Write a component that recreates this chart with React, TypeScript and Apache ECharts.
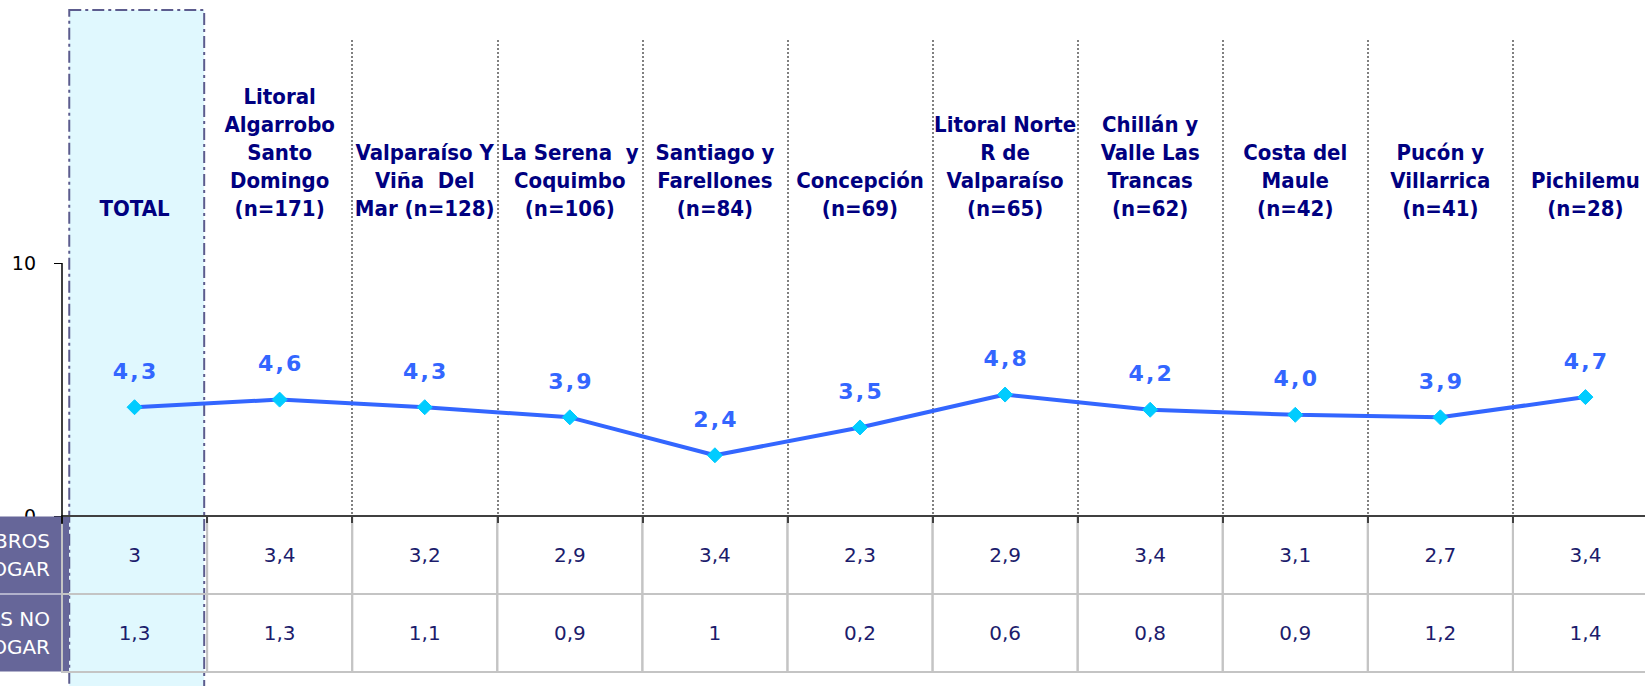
import React, { useEffect, useRef } from 'react';
import * as echarts from 'echarts';

const categories = [
  'TOTAL',
  'Litoral\nAlgarrobo\nSanto\nDomingo\n(n=171)',
  'Valparaíso Y\nViña  Del\nMar (n=128)',
  'La Serena  y\nCoquimbo\n(n=106)',
  'Santiago y\nFarellones\n(n=84)',
  'Concepción\n(n=69)',
  'Litoral Norte\nR de\nValparaíso\n(n=65)',
  'Chillán y\nValle Las\nTrancas\n(n=62)',
  'Costa del\nMaule\n(n=42)',
  'Pucón y\nVillarrica\n(n=41)',
  'Pichilemu\n(n=28)',
];
const promedio = [4.3, 4.6, 4.3, 3.9, 2.4, 3.5, 4.8, 4.2, 4.0, 3.9, 4.7];
const rowLabels = ['MIEMBROS\nHOGAR', 'MIEMBROS NO\nHOGAR'];
const miembrosHogar = [3, 3.4, 3.2, 2.9, 3.4, 2.3, 2.9, 3.4, 3.1, 2.7, 3.4];
const miembrosNoHogar = [1.3, 1.3, 1.1, 0.9, 1, 0.2, 0.6, 0.8, 0.9, 1.2, 1.4];
const yTickValues = [0, 10];
const yMax = 20;

const HS = '\u200A';
const fmtLabel = (v: number) => v.toFixed(1).replace('.', HS + ',' + HS);
const fmtCell = (v: number) => String(v).replace('.', ',');

const FONT = "'DejaVu Sans', sans-serif";
const FONT_COND = "'DejaVu Sans Condensed', 'DejaVu Sans', sans-serif";

export default function App() {
  const ref = useRef<HTMLDivElement>(null);

  useEffect(() => {
    if (!ref.current) return;
    const chart = echarts.init(ref.current, null, { renderer: 'svg' });

    const tableData: any[] = [];
    [miembrosHogar, miembrosNoHogar].forEach((row, ri) => {
      row.forEach((v, ci) => tableData.push([ci, ri, v]));
    });

    const option: any = {
      animation: false,
      backgroundColor: 'transparent',
      grid: [
        { left: 62, top: 10, width: 1596, height: 506, outerBoundsMode: 'none', containLabel: false },
        { left: 62, top: 40, width: 1596, height: 476, outerBoundsMode: 'none', containLabel: false },
        { left: 62, top: 516, width: 1596, height: 156, outerBoundsMode: 'none', containLabel: false },
      ],
      xAxis: [
        {
          gridIndex: 0,
          type: 'category',
          data: categories,
          boundaryGap: true,
          z: 5,
          axisLine: { show: true, lineStyle: { color: '#404040', width: 2 } },
          axisTick: { show: true, interval: 0, length: 7, lineStyle: { color: '#404040', width: 2 } },
          axisLabel: { show: false },
          splitLine: { show: false },
        },
        {
          gridIndex: 1,
          type: 'category',
          data: categories,
          boundaryGap: true,
          position: 'top',
          offset: -190,
          axisLine: { show: false },
          axisTick: { show: false },
          axisLabel: {
            show: true,
            interval: 0,
            margin: 8,
            color: '#000080',
            fontFamily: FONT_COND,
            fontWeight: 'bold',
            fontSize: 22,
            lineHeight: 28,
          },
          splitLine: {
            show: true,
            interval: (i: number) => i >= 2,
            lineStyle: { color: '#808080', width: 2, type: [2, 2] },
          },
        },
        {
          gridIndex: 2,
          type: 'category',
          data: categories,
          boundaryGap: true,
          show: false,
        },
      ],
      yAxis: [
        {
          gridIndex: 0,
          type: 'value',
          min: 0,
          max: yMax,
          interval: 10,
          axisLine: { show: false },
          axisTick: {
            show: true,
            customValues: yTickValues,
            length: 8,
            lineStyle: { color: '#000', width: 1 },
          },
          axisLabel: {
            show: true,
            customValues: yTickValues,
            margin: 26,
            color: '#000',
            fontFamily: FONT,
            fontSize: 19,
          },
          splitLine: { show: false },
        },
        { gridIndex: 1, type: 'value', min: 0, max: 1, show: false },
        {
          gridIndex: 2,
          type: 'category',
          data: rowLabels,
          inverse: true,
          axisLine: { show: false },
          axisTick: { show: false },
          axisLabel: {
            show: true,
            margin: -7,
            color: '#ffffff',
            fontFamily: FONT,
            fontSize: 20,
            lineHeight: 28,
            align: 'right',
            backgroundColor: '#666699',
            width: 120,
            padding: [11, 19, 10, 0],
          },
        },
      ],
      series: [
        {
          type: 'line',
          xAxisIndex: 0,
          yAxisIndex: 0,
          data: promedio,
          z: 4,
          lineStyle: { color: '#3366ff', width: 4 },
          symbol: 'diamond',
          symbolSize: 15,
          itemStyle: { color: '#00ccff', borderColor: '#00ccff', borderWidth: 1 },
          label: {
            show: true,
            position: 'top',
            distance: 17,
            formatter: (p: any) => fmtLabel(p.value),
            color: '#3366ff',
            fontFamily: FONT,
            fontWeight: 'bold',
            fontSize: 22,
          },
        },
        {
          type: 'custom',
          xAxisIndex: 2,
          yAxisIndex: 2,
          z: 1,
          encode: { x: 0, y: 1 },
          data: tableData,
          renderItem: (params: any, api: any) => {
            const c = api.coord([api.value(0), api.value(1)]);
            const s = api.size([1, 1]);
            return {
              type: 'group',
              children: [
                {
                  type: 'rect',
                  shape: { x: c[0] - s[0] / 2, y: c[1] - s[1] / 2, width: s[0], height: s[1] },
                  style: { fill: 'none', stroke: '#c4c4c4', lineWidth: 2 },
                },
                {
                  type: 'text',
                  style: {
                    text: fmtCell(api.value(2)),
                    x: c[0],
                    y: c[1],
                    align: 'center',
                    verticalAlign: 'middle',
                    fill: '#1c1c6c',
                    fontFamily: FONT,
                    fontSize: 20,
                  },
                },
              ],
            };
          },
        },
      ],
    };

    chart.setOption(option);

    const cx = chart.convertToPixel({ xAxisIndex: 0 }, categories[0]) as number;
    const cx1 = chart.convertToPixel({ xAxisIndex: 0 }, categories[1]) as number;
    const bw = cx1 - cx;
    const yTop = chart.convertToPixel({ yAxisIndex: 0 }, yMax) as number;
    const y10 = chart.convertToPixel({ yAxisIndex: 0 }, yTickValues[1]) as number;
    const y0 = chart.convertToPixel({ yAxisIndex: 0 }, yTickValues[0]) as number;
    const gx = cx - bw / 2;

    chart.setOption({
      graphic: [
        {
          type: 'rect',
          z: -1,
          silent: true,
          shape: { x: cx - 0.45 * bw, y: yTop, width: 0.93 * bw, height: 800 },
          style: { fill: '#e0f8fe', stroke: '#5c5c8e', lineWidth: 2, lineDash: [12, 4, 3, 4] },
        },
        {
          type: 'line',
          z: 10,
          silent: true,
          shape: { x1: gx, y1: y10, x2: gx, y2: y0 + 8 },
          style: { stroke: '#000', lineWidth: 1.5 },
        },
      ],
    });

    return () => chart.dispose();
  }, []);

  return (
    <div
      style={{
        position: 'fixed',
        left: 0,
        top: 0,
        width: 1645,
        height: 686,
        overflow: 'hidden',
        background: '#ffffff',
      }}
    >
      <div ref={ref} style={{ width: 1660, height: 686 }} />
    </div>
  );
}
